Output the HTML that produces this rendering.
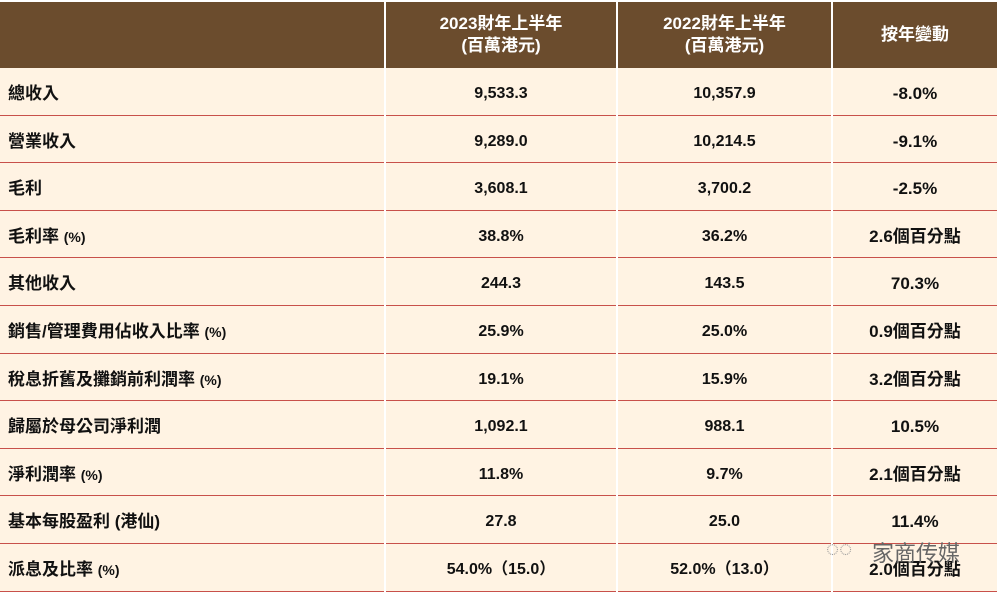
<!DOCTYPE html>
<html><head><meta charset="utf-8"><style>
body{margin:0;width:999px;height:594px;background:#fff;overflow:hidden;font-family:"Liberation Sans","Noto Sans CJK TC",sans-serif;font-weight:bold;}
.t{position:absolute;left:0;top:2px;width:997px;}
.h{position:absolute;top:0;height:66px;background:#6b4c2d;color:#fff;font-size:17px;display:flex;align-items:center;justify-content:center;text-align:center;line-height:22px;}
.r{position:absolute;left:0;width:997px;height:47.6px;background:#fff3e3;border-bottom:1.5px solid #c8504a;box-sizing:border-box;}
.c{position:absolute;top:0;height:46px;line-height:52px;text-align:center;font-size:16px;color:#111;white-space:nowrap;}
.l{text-align:left;padding-left:8px;font-size:17px;}
.v{position:absolute;top:0;width:2px;height:594px;background:#fff;}
small{font-size:14px}
</style></head><body>
<div class="t">
<div class="h" style="left:0;width:384px"></div>
<div class="h" style="left:386px;width:230px">2023財年上半年<br>(百萬港元)</div>
<div class="h" style="left:618px;width:213px">2022財年上半年<br>(百萬港元)</div>
<div class="h" style="left:833px;width:164px">按年變動</div>
</div>
<div id="rows"></div>
<script>
var d=[["總收入","9,533.3","10,357.9","-8.0%"],["營業收入","9,289.0","10,214.5","-9.1%"],["毛利","3,608.1","3,700.2","-2.5%"],["毛利率 <small>(%)</small>","38.8%","36.2%","2.6個百分點"],["其他收入","244.3","143.5","70.3%"],["銷售/管理費用佔收入比率 <small>(%)</small>","25.9%","25.0%","0.9個百分點"],["稅息折舊及攤銷前利潤率 <small>(%)</small>","19.1%","15.9%","3.2個百分點"],["歸屬於母公司淨利潤","1,092.1","988.1","10.5%"],["淨利潤率 <small>(%)</small>","11.8%","9.7%","2.1個百分點"],["基本每股盈利 (港仙)","27.8","25.0","11.4%"],["派息及比率 <small>(%)</small>","54.0%（15.0）","52.0%（13.0）","2.0個百分點"]];
var h="";d.forEach(function(r,i){var top=68+i*47.6;h+='<div class="r" style="top:'+top+'px"><div class="c l" style="left:0;width:376px">'+r[0]+'</div><div class="c" style="left:386px;width:230px">'+r[1]+'</div><div class="c" style="left:618px;width:213px">'+r[2]+'</div><div class="c" style="left:833px;width:164px;font-size:17px">'+r[3]+'</div></div>';});
h+='<div class="v" style="left:384px"></div><div class="v" style="left:616px"></div><div class="v" style="left:831px"></div>';
h+='<div style="position:absolute;left:872px;top:536px;font-size:22px;font-weight:normal;color:#666;">家商传媒</div><div style="position:absolute;left:826px;top:536px;font-size:22px;color:#999;font-weight:normal">◌◌</div>';
document.getElementById("rows").outerHTML=h;
</script>
</body></html>
